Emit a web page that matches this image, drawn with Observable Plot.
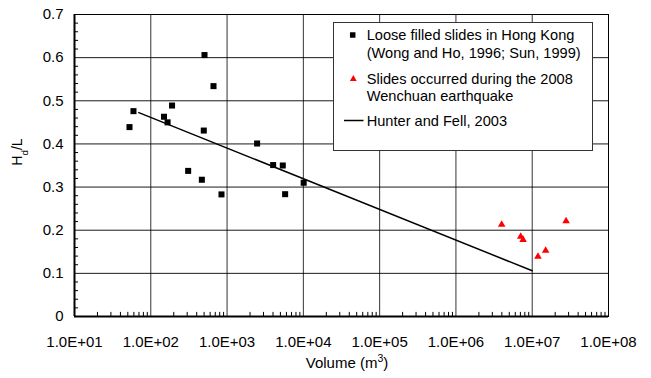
<!DOCTYPE html>
<html><head><meta charset="utf-8">
<script src="https://cdn.jsdelivr.net/npm/d3@7"></script>
<script src="https://cdn.jsdelivr.net/npm/@observablehq/plot@0.6"></script>
<style>body{margin:0;background:#fff} #chart{width:651px;height:378px}</style>
</head><body><div id="chart"></div>
<script>
// Loose filled slides in Hong Kong
const hkVolume = [52.6, 59.3, 149, 166, 190, 506, 664, 495, 309, 467, 845, 2476, 4018, 5375, 5770, 10100];
const hkRatio  = [0.439, 0.476, 0.463, 0.450, 0.489, 0.606, 0.534, 0.431, 0.3375, 0.317, 0.283, 0.401, 0.351, 0.350, 0.2835, 0.310];
// Slides during the 2008 Wenchuan earthquake
const wcVolume = [3.98e6, 7.06e6, 7.6e6, 1.19e7, 1.5e7, 2.78e7];
const wcRatio  = [0.213, 0.185, 0.178, 0.139, 0.153, 0.221];
// Hunter and Fell, 2003
const fitVolume = [69.7, 1e7];
const fitRatio  = [0.4726, 0.106];
// Axes
const xTicks = [1e1, 1e2, 1e3, 1e4, 1e5, 1e6, 1e7, 1e8];
const xTickLabels = ["1.0E+01", "1.0E+02", "1.0E+03", "1.0E+04", "1.0E+05", "1.0E+06", "1.0E+07", "1.0E+08"];
const yTicks = [0, 0.1, 0.2, 0.3, 0.4, 0.5, 0.6, 0.7];
const yTickLabels = ["0", "0.1", "0.2", "0.3", "0.4", "0.5", "0.6", "0.7"];
const legendLabels = [
  ["Loose filled slides in Hong Kong", "(Wong and Ho, 1996; Sun, 1999)"],
  ["Slides occurred during the 2008", "Wenchuan earthquake"],
  ["Hunter and Fell, 2003"]
];

const hk = hkVolume.map((v, i) => ({v, r: hkRatio[i]}));
const wc = wcVolume.map((v, i) => ({v, r: wcRatio[i]}));
const fit = fitVolume.map((v, i) => ({v, r: fitRatio[i]}));

const xMinor = [];
for (let k = 0; k < xTicks.length - 1; k++) for (let m = 2; m <= 9; m++) xMinor.push(xTicks[k] * m);
const yMinor = [];
for (let i = 1; i < 35; i++) if (i % 5 !== 0) yMinor.push(i * 0.02);

const FONT = "'Liberation Sans', Arial, sans-serif";

const svg = Plot.plot({
  width: 651, height: 378,
  marginLeft: 74, marginRight: 43, marginTop: 14, marginBottom: 62,
  style: {fontFamily: FONT, fontSize: "15px", background: "#fff", color: "#000"},
  x: {type: "log", domain: [10, 1e8]},
  y: {domain: [0, 0.7]},
  marks: [
    Plot.ruleX(xTicks.slice(1, -1), {stroke: "#000", strokeOpacity: 0.8}),
    Plot.ruleY(yTicks.slice(1, -1), {stroke: "#000", strokeOpacity: 0.9}),
    Plot.ruleX(xMinor, {y1: 0, y2: 0.0095, stroke: "#000"}),
    Plot.ruleY(yMinor, {x1: 10, x2: 11.3, stroke: "#000"}),
    Plot.frame({stroke: "#000"}),
    Plot.ruleY([0], {stroke: "#000", strokeWidth: 2}),
    Plot.ruleX([10], {stroke: "#000", strokeWidth: 2}),
    Plot.line(fit, {x: "v", y: "r", stroke: "#000", strokeWidth: 1.5}),
    Plot.dot(hk, {x: "v", y: "r", symbol: "square", r: 3.4, fill: "#000", stroke: "none"}),
    Plot.dot(wc, {x: "v", y: "r", symbol: "triangle", r: 2.8, fill: "#ff0000", stroke: "none"}),
    Plot.axisX({ticks: xTicks, tickFormat: d => xTickLabels[xTicks.indexOf(d)], tickSize: 0, tickPadding: 20, label: null, fontSize: 15}),
    Plot.axisY({ticks: yTicks, tickFormat: d => yTickLabels[yTicks.findIndex(t => Math.abs(t - d) < 1e-9)], tickSize: 0, tickPadding: 11, label: null, fontSize: 15})
  ]
});
document.getElementById("chart").appendChild(svg);

const s = d3.select(svg);
// Y title
const yt = s.append("text")
  .attr("transform", "translate(22,152) rotate(-90)")
  .attr("text-anchor", "middle")
  .attr("font-family", FONT).attr("font-size", 14).attr("fill", "#000");
yt.append("tspan").text("H");
yt.append("tspan").attr("baseline-shift", "sub").attr("font-size", "70%").text("d");
yt.append("tspan").text("/L");
// X title
const xt = s.append("text")
  .attr("x", 347).attr("y", 368)
  .attr("text-anchor", "middle")
  .attr("font-family", FONT).attr("font-size", 15).attr("fill", "#000");
xt.append("tspan").text("Volume (m");
xt.append("tspan").attr("baseline-shift", "super").attr("font-size", "70%").text("3");
xt.append("tspan").text(")");

// Legend
const lg = s.append("g").attr("font-family", FONT).attr("font-size", 14.6).attr("fill", "#000")
  .attr("text-anchor", "start");
lg.append("rect").attr("x", 333.5).attr("y", 22.5).attr("width", 259).attr("height", 128)
  .attr("fill", "#fff").attr("stroke", "#333").attr("stroke-width", 1);
lg.append("path").attr("transform", "translate(352.7,35)")
  .attr("d", d3.symbol(d3.symbolSquare, 30)()).attr("fill", "#000");
lg.append("path").attr("transform", "translate(353.3,79)")
  .attr("d", d3.symbol(d3.symbolTriangle, 20)()).attr("fill", "#ff0000");
lg.append("line").attr("x1", 344).attr("x2", 363.5).attr("y1", 120.5).attr("y2", 120.5)
  .attr("stroke", "#000").attr("stroke-width", 1.5);
const baselines = [[40, 57.5], [84.4, 100.7], [126]];
legendLabels.forEach((lines, i) => lines.forEach((t, j) => {
  lg.append("text").attr("x", 366.7).attr("y", baselines[i][j]).text(t);
}));
</script>
</body></html>
